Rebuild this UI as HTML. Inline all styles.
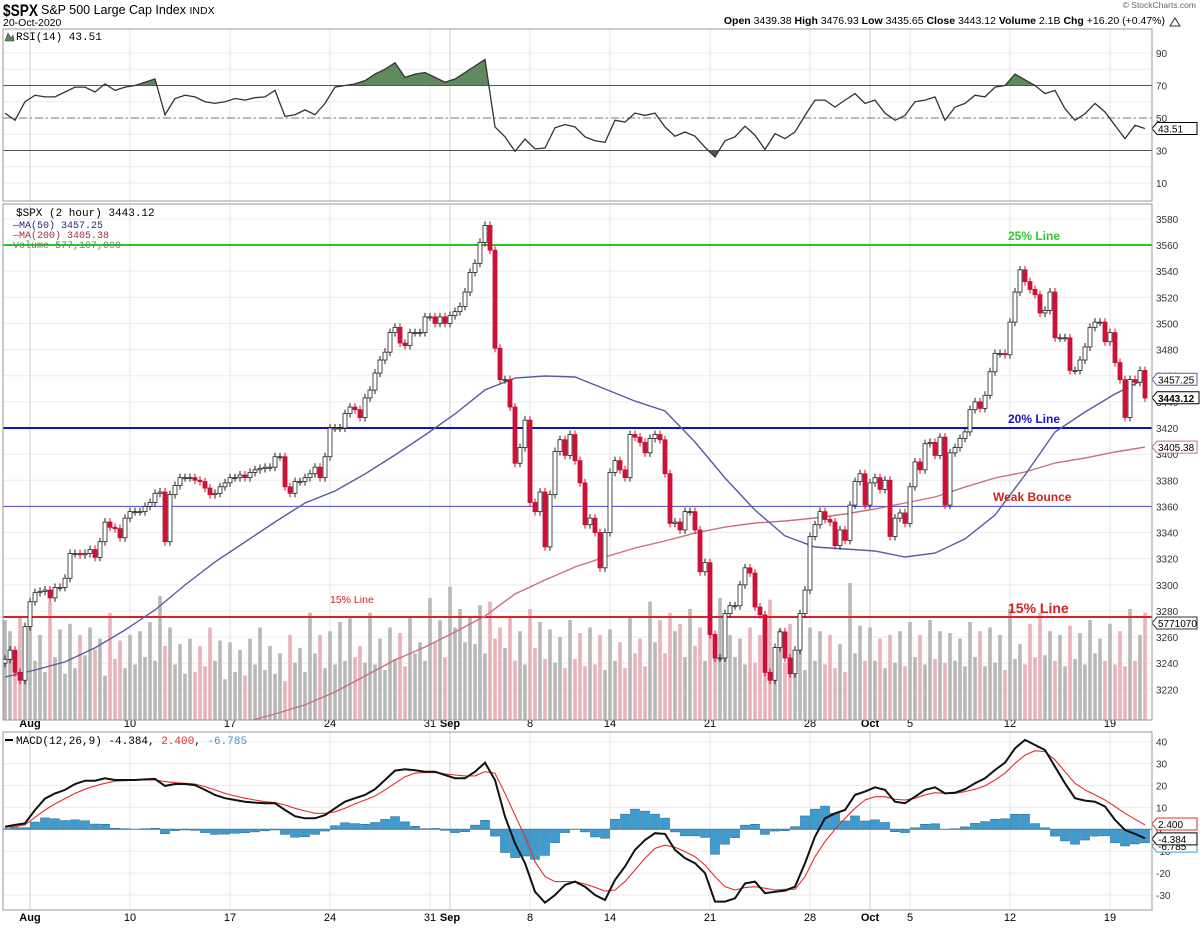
<!DOCTYPE html>
<html><head><meta charset="utf-8"><style>
body{margin:0;background:#fff}
svg{display:block;font-family:"Liberation Sans",sans-serif}
.mono{font-family:"Liberation Mono",monospace}
</style></head><body>
<svg id="chart" width="1200" height="930" viewBox="0 0 1200 930" xmlns="http://www.w3.org/2000/svg">
<defs>
<clipPath id="cMain"><rect x="3" y="204" width="1149" height="516"/></clipPath>
<clipPath id="cRsi"><rect x="3" y="29" width="1149" height="172"/></clipPath>
<clipPath id="cMacd"><rect x="3" y="732" width="1149" height="178"/></clipPath>
</defs>
<text x="3" y="16" font-size="17" font-weight="bold" textLength="35" lengthAdjust="spacingAndGlyphs">$SPX</text>
<text x="41" y="14" font-size="12.5">S&amp;P 500 Large Cap Index <tspan font-size="10.5">INDX</tspan></text>
<text x="3" y="26" font-size="10.5">20-Oct-2020</text>
<text x="1196" y="8" font-size="8.5" fill="#666" text-anchor="end">© StockCharts.com</text>
<text x="1165" y="24" font-size="10.5" text-anchor="end"><tspan font-weight="bold">Open</tspan> 3439.38  <tspan font-weight="bold">High</tspan> 3476.93  <tspan font-weight="bold">Low</tspan> 3435.65  <tspan font-weight="bold">Close</tspan> 3443.12  <tspan font-weight="bold">Volume</tspan> 2.1B  <tspan font-weight="bold">Chg</tspan> +16.20 (+0.47%)</text>
<path d="M1170 26 L1175 18 L1180 26 Z" fill="#fff" stroke="#333" stroke-width="1"/>
<g id="grid"></g>
<g id="rsi"></g>
<g id="main"></g>
<g id="macd"></g>
<g id="frames"></g>
</svg>
<script>
// ---------- DATA ----------
const closes = [3243,3250,3233,3227,3268,3287,3294,3295,3296,3290,3298,3298,3305,3324,3324,3323,3324,3327,3321,3333,3348,3344,3343,3336,3351,3356,3356,3356,3360,3363,3370,3371,3333,3369,3376,3382,3382,3382,3380,3379,3374,3369,3370,3375,3378,3382,3382,3384,3382,3386,3388,3389,3390,3390,3398,3398,3375,3370,3379,3379,3382,3385,3390,3382,3398,3420,3420,3420,3431,3436,3434,3428,3443,3449,3462,3472,3478,3493,3497,
3485,3483,3493,3493,3493,3505,3505,3500,3505,3500,3506,3509,3513,3524,3539,3546,3562,3575,3556,3481,3457,3457,3436,3393,3405,3426,3363,3356,3371,3329,3369,3402,3411,3399,3415,3395,3378,3346,3351,3340,3313,3340,3386,3395,3388,3382,3415,3413,3409,3401,3412,3415,3411,3385,3347,3348,3342,3356,3356,3342,3310,3317,3262,3244,3244,3278,3284,3284,3300,3313,3309,3283,3277,3233,3227,3252,3264,3244,3232,3250,3278,3296,
3337,3346,3356,3350,3348,3330,3342,3334,3361,3379,3385,3361,3378,3382,3373,3380,3337,3351,3355,3347,3375,3394,3388,3408,3409,3399,3413,3361,3401,3405,3412,3417,3434,3440,3435,3445,3463,3477,3477,3476,3501,3524,3541,3532,3526,3522,3508,3510,3524,3489,3489,3489,3464,3464,3472,3482,3497,3501,3501,3486,3493,3470,3457,3428,3457,3455,3464,3443];
const firstOpen = 3240;
const volumes = [5.4,4.8,3.0,5.6,3.9, 6.2,3.2,4.6,2.6, 6.4,3.4,4.9,2.5, 5.2,2.8,4.6,3.5, 5.0,3.8,4.4,2.4, 5.8,3.3,4.3,2.8,
4.6,3.0,4.8,3.4, 5.3,3.2,6.7,4.0, 5.0,3.0,4.1,2.5, 4.4,2.6,4.0,2.9, 5.0,3.2,4.3,2.2, 4.2,2.6,3.8,2.4,
4.4,3.0,5.0,2.7, 4.0,2.5,3.6,2.1, 4.6,3.1,3.9,2.6, 5.8,3.6,4.6,2.8, 4.8,3.0,5.3,3.2, 5.5,3.4,4.0,3.1,
5.8,3.0,4.4,2.7, 5.0,3.3,4.7,2.9, 5.6,3.6,4.2,3.2, 6.6,4.2,5.4,3.4, 7.2,5.0,6.0,4.2, 5.6,4.1,6.2,3.6,
6.4,4.4,5.0,3.9, 5.6,3.2,4.8,3.0, 6.0,3.9,5.3,3.3, 4.9,3.1,4.5,2.8, 5.4,3.3,4.7,2.9, 5.0,3.0,4.6,2.7,
4.9,3.2,4.2,2.8, 5.6,3.6,4.4,2.9, 6.4,4.2,5.4,3.6, 5.8,4.8,5.2,3.4, 6.0,4.0,5.0,3.2, 5.6,3.4,6.6,4.0,
4.6,3.4,4.4,3.0, 5.0,3.1,4.6,2.9, 6.5,3.6,4.9,3.1, 5.2,3.3,4.4,2.7, 5.0,3.2,4.8,3.0, 4.6,2.8,4.1,2.6,
7.4,3.6,5.1,3.2, 5.0,3.2,4.4,2.8, 4.6,3.1,4.8,2.9, 5.3,3.4,4.6,3.0, 5.4,3.3,4.8,3.1, 4.7,3.2,4.4,2.9,
5.3,3.4,4.8,2.9, 5.0,3.1,4.6,2.7, 6.0,3.3,4.1,3.0, 5.2,3.4,5.8,3.5, 4.8,3.2,4.6,2.9, 5.1,3.3,4.7,3.0,
5.4,3.6,4.4,3.2, 5.2,3.0,4.8,2.9, 6.0,3.2,4.6,5.8];
const rsi = [53,48.6,60,64,63,63,66,69,69,66,71,67,69,70,72,74,52,62,64,63,60,59,60,62,61,62.5,63,67,51,52,55,52,59,69,70,71,73,77,80,84,75,77,78,75,72,74,78,82,86,44.5,38.4,29.5,37,31,31.5,44,46,
44.5,38.4,36,35,48.6,47.5,53,51.6,53,44.5,38.8,41.4,38.8,32,26,36,38.4,45,39.4,30.6,40.4,37.3,41.4,51.6,61,61,56.7,61,65,59,61,53,48.6,51.6,60,61,63,48.6,56.7,59,64,63,69,70,77,73.5,70,65,67,55.7,48.6,52.6,59,53.7,45.5,37.3,45.5,43.5];
const macdLine = [1.2,2,2.7,8.8,14,16.4,18,20.7,22.2,22.2,23.3,22.5,22.5,22.5,22.8,23,19.8,20.7,20.7,20.2,18,15.7,14.2,13.4,12.6,12.2,11.9,11.9,8.8,6,5,5,6.5,9.6,12.6,14.2,15.7,18.3,22.5,26.8,27.4,27,26.3,26.3,24.8,23.3,23.3,26.3,30.4,22.5,5.8,-6.4,-15.5,-28.5,-33.5,-30,-25.4,
-23.9,-26.2,-30,-32.3,-23.1,-17,-9.4,-4.9,-1.8,-2.1,-9.4,-13.2,-15.5,-20,-33,-33,-31.5,-24.7,-23.9,-29.2,-28.5,-28,-26.2,-15.5,-3.3,5,7.3,8.8,15.7,17.2,19.2,18,12.6,11.9,14.9,18,19.2,16.4,16.7,18.3,21,23.3,27.1,30.4,37,40.8,38.5,36.2,28.6,21,14.2,13.1,12.6,10.4,4.3,-0.3,-2.1,-4.1];
const signalLine = [0.9,1.2,2,5.5,8.8,11.6,14,16.4,18.3,19.8,21,22,22.2,22.5,22.5,22.5,21.8,21.3,21,20.7,19.5,18,16.4,15.2,14.2,13.4,12.6,12.2,11.1,9.6,8.4,7.3,7.3,8,9.6,11.6,13.4,15.2,18,21,24,25.6,26,25.9,25.3,24.8,24.4,24.4,26.3,25.6,16.4,6.5,-3.3,-14.8,-21.6,-23.9,-23.9,
-23.9,-25,-26.5,-28.2,-27.7,-23.9,-18.6,-13.2,-8.7,-7.2,-8.2,-10.2,-12.5,-16.3,-21.6,-26.2,-27.7,-26.6,-26.2,-26.9,-27.7,-27.4,-27.4,-21.6,-12.5,-5.6,0,5,9.6,13.4,14.9,14.9,13.7,13.4,14.2,15.7,16.7,16.4,16.4,17.2,18.3,19.8,22.5,25.6,30.1,33.9,35.9,35.5,31.7,26.3,21,18,15.7,13.4,10.4,7.3,4.6,2];
const ma50 = [3229.5,3234.8,3241,3251.7,3265.4,3280.7,3299.9,3317.5,3332.8,3348.1,3362.6,3371.8,3384.8,3399.3,3414.6,3430.7,3449.1,3458.2,3459.8,3459,3449.8,3440.6,3433,3409.3,3381.7,3357.2,3337.4,3328.9,3327.4,3325.9,3321.3,3324.3,3335.1,3353.4,3384,3416.9,3432.2,3446,3457.5];
const ma200 = [null,null,null,null,null,null,null,null,3195,3201.2,3208.1,3218,3230.2,3242.5,3252.4,3263.9,3276.1,3293,3303.7,3313.6,3321.3,3328.2,3333.5,3339.6,3344.2,3347.3,3348.8,3351.1,3354.2,3358,3362.6,3367.2,3374.8,3381.7,3386.3,3393.2,3397,3401.6,3405.4];
const priceTicks = [3580,3560,3540,3520,3500,3480,3460,3440,3420,3400,3380,3360,3340,3320,3300,3280,3260,3240,3220];
const rsiTicks = [90,70,50,30,10];
const macdTicks = [40,30,20,10,0,-10,-20,-30];
const dateLabels = ["Aug","10","17","24","31","Sep","8","14","21","28","Oct","5","12","19"];
const dateBars = [5,25,45,65,85,89,105,121,141,161,173,181,201,221];
const monthLabels = ["Aug","Sep","Oct"];
const levelLines = [3560,3420,3360,3275.4];

// ---------- SCALES ----------
const NS="http://www.w3.org/2000/svg";
const xB = i => 5 + 5*i;
const yP = p => 245 + (3560-p)*1.307;
const yR = v => 118 - (v-50)*1.625;
const yM = v => 829.3 - v*2.19;
const yV = v => 720 - v*18.5;
function mk(tag, attrs, parent){const e=document.createElementNS(NS,tag);for(const k in attrs)e.setAttribute(k,attrs[k]);parent.appendChild(e);return e;}
const G=id=>document.getElementById(id);

// ---------- GRID ----------
const grid=G('grid');
for(let v=10;v<=90;v+=10){const l=mk('line',{x1:3,x2:1152,y1:yR(v),y2:yR(v),stroke:'#ececec'},grid);

}
priceTicks.forEach(p=>{const l=mk('line',{x1:3,x2:1152,y1:yP(p),y2:yP(p),stroke:'#ececec'},grid);

});
macdTicks.forEach(v=>{const l=mk('line',{x1:3,x2:1152,y1:yM(v),y2:yM(v),stroke:'#ececec'},grid);

});
dateBars.forEach((b,k)=>{const isM=monthLabels.includes(dateLabels[k]);const x=xB(b);
[[29,201],[204,720],[732,910]].forEach(r=>{const l=mk('line',{x1:x,x2:x,y1:r[0],y2:r[1],stroke:isM?'#cfcfcf':'#e4e4e4'},grid);

});
[727,921].forEach(yy=>{const t=mk('text',{x:x,y:yy,'font-size':11,'text-anchor':'middle','font-weight':isM?'bold':'normal'},grid);t.textContent=dateLabels[k];

});
});

// ---------- RSI ----------
const rg=G('rsi');
const rsiPts=rsi.map((v,j)=>[xB(2*j),yR(v)]);
const rc=mk('g',{'clip-path':'url(#cRsi)'},rg);
const poly=rsiPts.map(p=>p.join(',')).join(' ');
const first=rsiPts[0][0], last=rsiPts[rsiPts.length-1][0];
const ca=mk('clipPath',{id:'above70'},rc);mk('rect',{x:0,y:0,width:1200,height:yR(70)},ca);
const cb=mk('clipPath',{id:'below30'},rc);mk('rect',{x:0,y:yR(30),width:1200,height:100},cb);
const f1=mk('polygon',{points:`${first},${yR(70)} ${poly} ${last},${yR(70)}`,fill:'#5f8a5f','clip-path':'url(#above70)'},rc);


const f2=mk('polygon',{points:`${first},${yR(30)} ${poly} ${last},${yR(30)}`,fill:'#555','clip-path':'url(#below30)'},rc);


[[70,'#555',''],[30,'#555',''],[50,'#777','8,3,2,3']].forEach(a=>{const l=mk('line',{x1:3,x2:1152,y1:yR(a[0]),y2:yR(a[0]),stroke:a[1],'stroke-dasharray':a[2]},rc);

});
const rl=mk('polyline',{points:poly,fill:'none',stroke:'#333','stroke-width':1.3},rc);


rsiTicks.forEach(v=>{const t=mk('text',{x:1156,y:yR(v)+4,'font-size':10,fill:'#333'},rg);t.textContent=v;

});
const rt=mk('text',{x:16,y:40,'font-size':11,class:'mono'},rg);rt.textContent='RSI(14) 43.51';


mk('path',{d:'M5 41 L8 33 L11 38 L13 35 L14 41 Z',fill:'#5f8a5f',stroke:'#333','stroke-width':0.6},rg);
tag0();
function tag0(){}

// ---------- MAIN ----------
const mg=G('main');
const mc=mk('g',{'clip-path':'url(#cMain)'},mg);
volumes.forEach((v,i)=>{const up=i===0?true:closes[i]>=closes[i-1];const r=mk('rect',{x:xB(i)-1.8,y:yV(v),width:3.6,height:720-yV(v),fill:up?'#b8b8b8':'#eab2bb'},mc);

});
const lvStyle=[['#22cc22',2],['#1010c8',2],['#4a4ad8',1],['#e02020',2]];
levelLines.forEach((p,k)=>{const l=mk('line',{x1:3,x2:1152,y1:yP(p),y2:yP(p),stroke:lvStyle[k][0],'stroke-width':lvStyle[k][1]},mc);

});
function maPath(arr){let d='';arr.forEach((v,k)=>{if(v==null)return;d+=(d?'L':'M')+xB(6*k)+' '+yP(v).toFixed(1);});return d;}
const m2=mk('path',{d:maPath(ma200),fill:'none',stroke:'#c87080','stroke-width':1.4},mc);


const m1=mk('path',{d:maPath(ma50),fill:'none',stroke:'#5a5aa0','stroke-width':1.4},mc);


closes.forEach((c,i)=>{const o=i===0?firstOpen:closes[i-1];const up=c>=o;const x=xB(i);
const top=yP(Math.max(o,c)),bot=yP(Math.min(o,c));
const w=mk('line',{x1:x,x2:x,y1:top-4,y2:bot+4,stroke:up?'#222':'#c8102e','stroke-width':1},mc);


const b=mk('rect',{x:x-2,y:top,width:4,height:Math.max(1,bot-top),fill:up?'#fff':'#d0103a',stroke:up?'#222':'#c8102e','stroke-width':0.8},mc);

});
[['25% Line',1008,240,'#2bcc2b',12],['20% Line',1008,423,'#1414c8',12],['Weak Bounce',993,501,'#d42020',12],['15% Line',1008,613,'#d42020',14]].forEach(a=>{const t=mk('text',{x:a[1],y:a[2],'font-size':a[4],'font-weight':'bold',fill:a[3]},mg);t.textContent=a[0];

});
const sm=mk('text',{x:330,y:603,'font-size':10.5,fill:'#d42020'},mg);sm.textContent='15% Line';


[['$SPX (2 hour) 3443.12','#000',216,11],['MA(50) 3457.25','#2a2a7a',228,10],['MA(200) 3405.38','#a03050',238,10],['Volume 577,107,000','#5a8a5a',248,10]].forEach((a,k)=>{const t=mk('text',{x:k===0?16:13,y:a[2],'font-size':a[3],fill:a[1],class:'mono'},mg);t.textContent=(k===1||k===2?'\u2014':'')+a[0];

});
priceTicks.forEach(p=>{const t=mk('text',{x:1156,y:yP(p)+4,'font-size':10,fill:'#333'},mg);t.textContent=p;

});
function tag(y,txt,col,bold,parent){const w=bold?42:40;mk('path',{d:`M1152 ${y} L1157 ${y-6} L${1157+w} ${y-6} L${1157+w} ${y+6} L1157 ${y+6} Z`,fill:'#fff',stroke:col,'stroke-width':1},parent);
const t=mk('text',{x:1158,y:y+4,'font-size':10,fill:'#000','font-weight':bold?'bold':'normal'},parent);t.textContent=txt;

}
tag(yP(3457.25),'3457.25','#5a5aa0',false,mg);
tag(yP(3443.12),'3443.12','#000',true,mg);
tag(yP(3405.38),'3405.38','#c87080',false,mg);
tag(623,'5771070','#333',false,mg);
tag(yR(43.51),'43.51','#000',false,rg);

// ---------- MACD ----------
const dg=G('macd');
const dc=mk('g',{'clip-path':'url(#cMacd)'},dg);
macdLine.forEach((v,j)=>{const h=v-signalLine[j];const y0=yM(0),y1=yM(h);const r=mk('rect',{x:xB(2*j)-4.5,y:Math.min(y0,y1),width:9,height:Math.abs(y1-y0),fill:'#3d9bd0',stroke:'#1f5f85','stroke-width':0.5},dc);

});
const zl=mk('line',{x1:3,x2:1152,y1:yM(0),y2:yM(0),stroke:'#4a7fa0','stroke-width':1},dc);


const sl=mk('polyline',{points:signalLine.map((v,j)=>xB(2*j)+','+yM(v).toFixed(1)).join(' '),fill:'none',stroke:'#e03030','stroke-width':1.1},dc);


const ml=mk('polyline',{points:macdLine.map((v,j)=>xB(2*j)+','+yM(v).toFixed(1)).join(' '),fill:'none',stroke:'#111','stroke-width':2},dc);


macdTicks.forEach(v=>{const t=mk('text',{x:1156,y:yM(v)+4,'font-size':10,fill:'#333'},dg);t.textContent=v;

});
const mt=mk('text',{x:16,y:744,'font-size':11,class:'mono'},dg);
mt.innerHTML='MACD(12,26,9) -4.384, <tspan fill="#e03030">2.400</tspan>, <tspan fill="#3d9bd0">-6.785</tspan>';


mk('line',{x1:5,x2:13,y1:740,y2:740,stroke:'#000','stroke-width':2},dg);
tag(yM(-6.785)+2,'-6.785','#3d9bd0',false,dg);
tag(yM(2.4),'2.400','#e03030',false,dg);
tag(yM(-4.384),'-4.384','#000',false,dg);

// ---------- FRAMES ----------
const fr=G('frames');
[[3,29,1149,172,'rsi-panel'],[3,204,1149,516,'price-panel'],[3,732,1149,178,'macd-panel']].forEach(a=>{const r=mk('rect',{x:a[0],y:a[1],width:a[2],height:a[3],fill:'none',stroke:'#999','stroke-width':1},fr);

});
</script>
</body></html>
